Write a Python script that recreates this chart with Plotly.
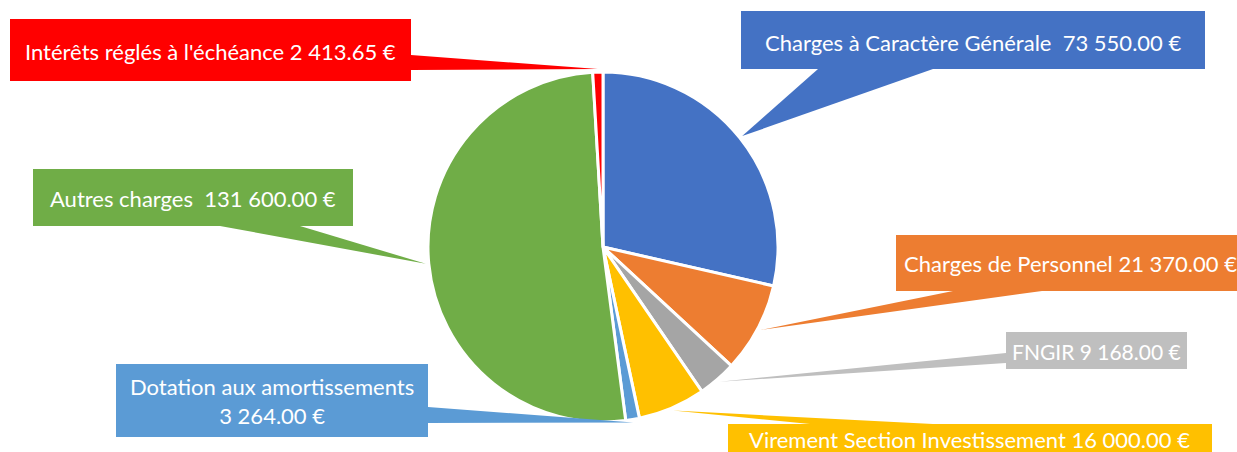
import math
import plotly.graph_objects as go

# ---- data ----
categories = ["Charges à Caractère Générale", "Charges de Personnel", "FNGIR",
              "Virement Section Investissement", "Dotation aux amortissements",
              "Autres charges", "Intérêts réglés à l'échéance"]
values = [73550.00, 21370.00, 9168.00, 16000.00, 3264.00, 131600.00, 2413.65]
slice_colors = ["#4472C4", "#ED7D31", "#A5A5A5", "#FFC000", "#5B9BD5", "#70AD47", "#FF0000"]
box_colors = ["#4472C4", "#ED7D31", "#BFBFBF", "#FFC000", "#5B9BD5", "#70AD47", "#FF0000"]
separators = ["\u00a0 ", " ", " ", " ", "<br>", "\u00a0 ", " "]

# ---- layout (pixel geometry) ----
W, H = 1237, 452
CX, CY, R = 603, 247, 175
RT = 178  # radius where callout pointers end

# callout boxes: (x0, x1, y0, y1), pointer base points, text centre
boxes = [
    dict(box=(741, 1205, 11, 69), base=[(818, 69), (933, 69)], tc=(973, 42)),
    dict(box=(896, 1250, 235, 291), base=[(953, 291), (1042, 291)], tc=(1070, 263)),
    dict(box=(1006, 1187, 332, 369), base=[(1006, 353), (1006, 363)], tc=(1096, 351)),
    dict(box=(728, 1212, 424, 480), base=[(810, 424), (933, 424)], tc=(969, 439)),
    dict(box=(116, 428, 364, 437), base=[(428, 407), (428, 423)], tc=(272, 401)),
    dict(box=(33, 353, 169, 226), base=[(220, 226), (300, 226)], tc=(193, 198)),
    dict(box=(10, 411, 19, 81), base=[(411, 55), (411, 70)], tc=(210, 51)),
]
font_sizes = [22, 22, 21, 22, 22, 22, 22]


def px(x):
    return x / W


def py(y):
    return 1 - y / H


def fmt(v):
    return f"{v:,.2f}".replace(",", " ") + " €"


fig = go.Figure()
fig.add_trace(go.Pie(
    labels=categories, values=values, sort=False, direction="clockwise", rotation=0,
    marker=dict(colors=slice_colors, line=dict(color="white", width=3)),
    textinfo="none", hoverinfo="label+value", showlegend=False,
    domain=dict(x=[px(CX - R), px(CX + R)], y=[py(CY + R), py(CY - R)]),
))

total = sum(values)
cum = 0.0
shapes = []
annotations = []
for i, v in enumerate(values):
    mid = (cum + v / 2) / total * 2 * math.pi
    cum += v
    tx = CX + RT * math.sin(mid)
    ty = CY - RT * math.cos(mid)
    b = boxes[i]
    x0, x1, y0, y1 = b["box"]
    col = box_colors[i]
    (bx1, by1), (bx2, by2) = b["base"]
    path = (f"M {px(bx1)} {py(by1)} L {px(bx2)} {py(by2)} L {px(tx)} {py(ty)} Z")
    shapes.append(dict(type="path", xref="paper", yref="paper", path=path,
                       fillcolor=col, line=dict(width=0), layer="above"))
    shapes.append(dict(type="rect", xref="paper", yref="paper",
                       x0=px(x0), x1=px(x1), y0=py(y1), y1=py(y0),
                       fillcolor=col, line=dict(width=0), layer="above"))
    annotations.append(dict(
        xref="paper", yref="paper", x=px(b["tc"][0]), y=py(b["tc"][1]),
        xanchor="center", yanchor="middle", showarrow=False,
        text=categories[i] + separators[i] + fmt(v),
        font=dict(family="Lato", size=font_sizes[i], color="white"), align="center",
    ))

fig.update_layout(
    width=W, height=H, margin=dict(l=0, r=0, t=0, b=0),
    paper_bgcolor="white", plot_bgcolor="white",
    shapes=shapes, annotations=annotations,
)

fig.write_html("out.html", config={"displayModeBar": False},
               post_script="document.body.style.margin='0';document.body.style.overflow='hidden';")
